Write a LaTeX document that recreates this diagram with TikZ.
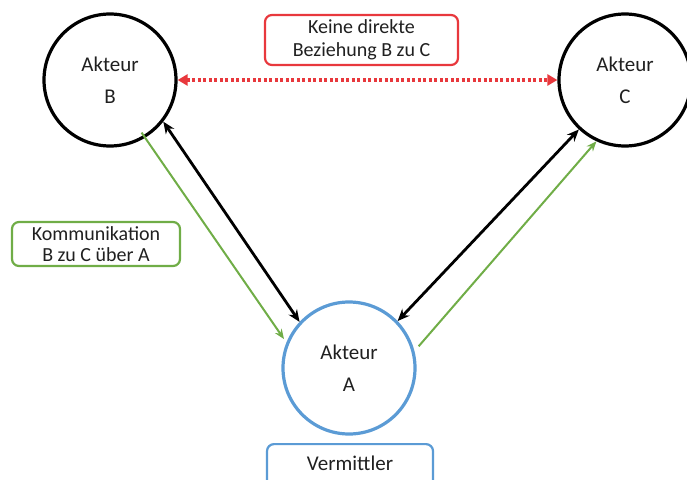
\documentclass[tikz,border=0pt]{standalone}
\usepackage{fontspec}
\setmainfont{Carlito}
\usetikzlibrary{arrows.meta}
\definecolor{ored}{HTML}{E8383D}
\definecolor{ogreen}{HTML}{70AD47}
\definecolor{oblue}{HTML}{5B9BD5}
\definecolor{otext}{HTML}{202020}
\begin{document}
\begin{tikzpicture}[x=1pt,y=-1pt,
  actor/.style={circle,draw,line width=3.2pt,minimum size=132pt,inner sep=0pt,align=center,text=otext,font=\fontsize{21}{32}\selectfont},
  lbl/.style={draw,rounded corners=7pt,line width=2.2pt,align=center,inner sep=0pt,text=otext,font=\fontsize{20}{23}\selectfont},
  link/.style={line width=2.8pt,{Stealth[length=12pt,width=10pt]}-{Stealth[length=12pt,width=10pt]}},
  flow/.style={draw=ogreen,line width=2pt,-{Stealth[length=10pt,width=8pt]}},
  nolink/.style={draw=ored,line width=3.2pt,dash pattern=on 3pt off 2.5pt,{Triangle[length=10pt,width=11pt]}-{Triangle[length=10pt,width=11pt]}}]
\useasboundingbox (0,0) rectangle (687,479);
\node[actor] (B) at (110,80) {Akteur\\B};
\node[actor] (C) at (625,80) {Akteur\\C};
\node[actor,draw=oblue] (A) at (349,368) {Akteur\\A};
\node[lbl,draw=ored,minimum width=193pt,minimum height=50pt] (rel) at (361.5,40) {Keine direkte\\Beziehung B zu C};
\node[lbl,draw=ogreen,minimum width=168pt,minimum height=44pt,font=\fontsize{20}{21}\selectfont] (kom) at (96,244) {Kommunikation\\B zu C über A};
\node[lbl,draw=oblue,minimum width=166pt,minimum height=48pt,anchor=north] (ver) at (350,443) {};
\node[text=otext,font=\fontsize{21}{25}\selectfont] (vt) at (350,463) {Vermittler};
\draw[nolink] (B.east) -- (C.west);
\draw[link] (B.-38) -- (A.137);
\draw[link] (C.-133) -- (A.44);
\draw[flow] (B.-66) ++(-66:10) -- ([shift={(152:6)}]A.152);
\draw[flow] (A.21) ++(21:7) -- (C.-115);
\end{tikzpicture}
\end{document}
